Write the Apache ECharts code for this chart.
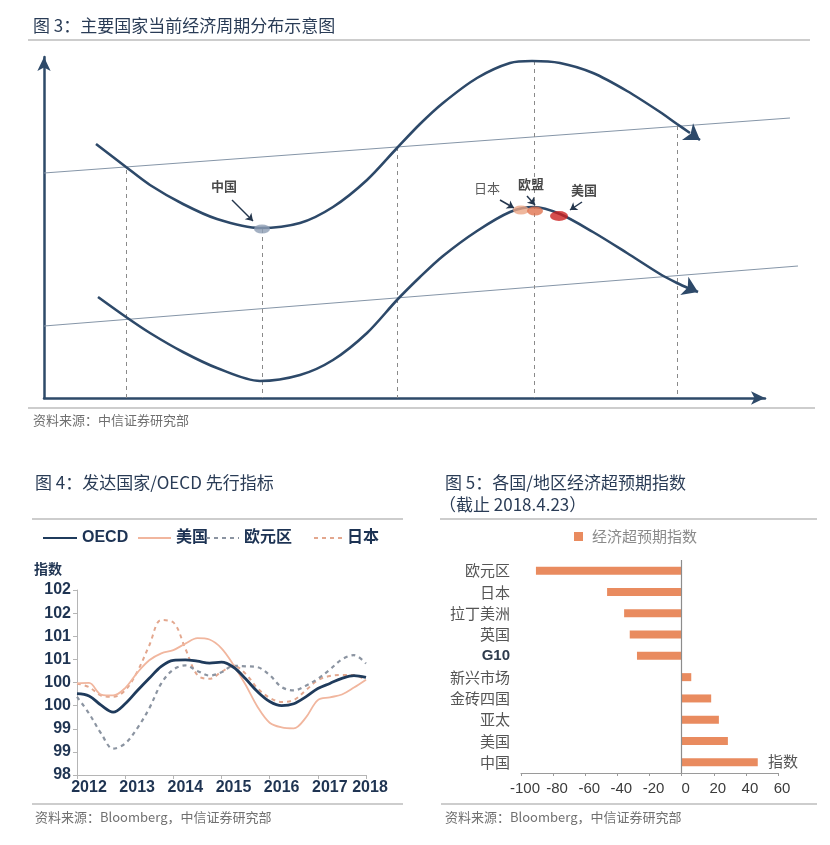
<!DOCTYPE html>
<html><head><meta charset="utf-8">
<script src="https://cdn.jsdelivr.net/npm/echarts@6/dist/echarts.min.js"></script>
<style>html,body{margin:0;padding:0;background:#fff}#c{width:830px;height:845px}</style>
</head><body><div id="c"></div>
<script>
// ---------- Figure 3: schematic cycle diagram (units: x right of y-axis, y above x-axis) ----------
const fig3Title = '图 3：主要国家当前经济周期分布示意图';
const fig3Source = '资料来源：中信证券研究部';
const upperWave = [[52,254],[82,231],[106,213],[139,194],[173,179],[216,170],[256,175],[289,191],[323,218],[353,250],[376,274],[399,295],[433,320],[466,335],[488,337],[516,335],[549,325],[583,307],[616,286],[633,274],[646,265]];
const lowerWave = [[54,101],[82,81],[106,65],[139,46],[173,30],[216,17],[256,23],[289,38],[323,65],[353,98],[376,121],[399,142],[433,167],[466,186],[490,191],[516,184],[549,166],[583,145],[616,124],[633,115],[646,109]];
const waveHeads = [[[647,264],[656,258]],[[645,110],[654,106]]];
const trendLines = [[[0,225],[746,280]],[[0,72],[754,132]]];
const guideX = [82,218,353,490,633];
const guideTop = [228,169,251,337,272];
const markerNames = ['中国','日本','欧盟','美国'];
const markerPos = [[218,169],[477,188],[491,187],[515,182]];
const markerLabelPos = [[180,212],[443,210],[487,214],[540,208]];
const pointerArrows = [[[188,198],[209,177]],[[456,198],[470,190]],[[483,202],[491,193]],[[538,196],[526,188]]];

// ---------- Figure 4: developed-country / OECD leading indicators ----------
const fig4Title = '图 4：发达国家/OECD 先行指标';
const fig4Source = '资料来源：Bloomberg，中信证券研究部';
const quarters = [2012,2012.25,2012.5,2012.75,2013,2013.25,2013.5,2013.75,2014,2014.25,2014.5,2014.75,2015,2015.25,2015.5,2015.75,2016,2016.25,2016.5,2016.75,2017,2017.25,2017.5,2017.75,2018];
const oecd  = [99.76,99.71,99.51,99.36,99.54,99.82,100.09,100.35,100.48,100.49,100.46,100.42,100.44,100.33,100.08,99.80,99.59,99.50,99.54,99.69,99.87,99.98,100.09,100.15,100.11];
const usa   = [99.98,99.99,99.74,99.72,99.88,100.21,100.48,100.63,100.70,100.84,100.96,100.93,100.74,100.38,99.95,99.47,99.13,99.03,99.01,99.24,99.62,99.68,99.74,99.89,100.06];
const euro  = [99.69,99.33,98.90,98.57,98.68,99.01,99.44,99.98,100.28,100.37,100.25,100.15,100.22,100.36,100.35,100.33,100.16,99.90,99.83,99.93,100.08,100.28,100.50,100.59,100.41];
const japan = [99.98,99.90,99.72,99.69,99.83,100.23,100.80,101.35,101.30,100.73,100.16,100.08,100.23,100.36,100.19,99.87,99.67,99.58,99.62,99.83,100.05,100.14,100.16,100.16,100.05];
const fig4XLabels = ['2012','2013','2014','2015','2016','2017','2018'];
const fig4YLabels = ['98','99','99','100','100','101','101','102','102'];

// ---------- Figure 5: economic surprise index ----------
const fig5Title = '图 5：各国/地区经济超预期指数';
const fig5Sub = '（截止 2018.4.23）';
const fig5Source = '资料来源：Bloomberg，中信证券研究部';
const regions = ['欧元区','日本','拉丁美洲','英国','G10','新兴市场','金砖四国','亚太','美国','中国'];
const surprise = [-90.7,-46.4,-35.8,-32.3,-27.8,6.0,18.4,23.2,28.8,47.4];
const fig5XLabels = ['-100','-80','-60','-40','-20','0','20','40','60'];

const F_CJK = '"Noto Sans CJK SC","Noto Sans",sans-serif';
const F_NUM = '"Liberation Sans",Arial,"Noto Sans CJK SC",sans-serif';
const NAVY = '#1f3452';
const WAVE = '#2d4969';

const chart = echarts.init(document.getElementById('c'));
const pair = (arr) => arr.map((v,i)=>[quarters[i], v]);
const markerColors = ['#8d9eb4','#eba584','#e0734f','#cc2222'];
const titleStyle = {fontFamily:F_CJK, fontSize:17, fontWeight:'normal', color:'#2a3c56'};
const srcStyle = {fontFamily:F_CJK, fontSize:13, fontWeight:'normal', color:'#707070'};
const legText = {fontFamily:F_NUM, fontSize:16, fontWeight:'bold', color:'#1d3354'};
const legCommon = {top:530, padding:0, itemHeight:14, selectedMode:false, textStyle:legText, itemStyle:{opacity:0}};

const option = {
  animation:false,
  title:[
    {text:fig3Title, left:33, top:17, padding:0, textStyle:titleStyle},
    {text:fig3Source, left:33, top:414, padding:0, textStyle:srcStyle},
    {text:fig4Title, left:35, top:474, padding:0, textStyle:titleStyle},
    {text:fig4Source, left:35, top:811, padding:0, textStyle:srcStyle},
    {text:fig5Title, left:445, top:474, padding:0, textStyle:titleStyle},
    {text:fig5Sub, left:439, top:496, padding:0, textStyle:titleStyle},
    {text:fig5Source, left:445, top:811, padding:0, textStyle:srcStyle},
    {text:'指数', left:768, top:754, padding:0, textStyle:{fontFamily:F_CJK, fontSize:15, fontWeight:'normal', color:'#555'}}
  ],
  graphic:[
    {type:'line', shape:{x1:28,y1:40,x2:810,y2:40}, style:{stroke:'#9b9b9b', lineWidth:1.2}},
    {type:'line', shape:{x1:28,y1:408,x2:815,y2:408}, style:{stroke:'#9b9b9b', lineWidth:1.2}},
    {type:'line', shape:{x1:32,y1:519,x2:403,y2:519}, style:{stroke:'#9b9b9b', lineWidth:1.2}},
    {type:'line', shape:{x1:440,y1:519,x2:817,y2:519}, style:{stroke:'#9b9b9b', lineWidth:1.2}},
    {type:'line', shape:{x1:32,y1:804,x2:403,y2:804}, style:{stroke:'#9b9b9b', lineWidth:1.2}},
    {type:'line', shape:{x1:441,y1:804,x2:817,y2:804}, style:{stroke:'#9b9b9b', lineWidth:1.2}}
  ],
  legend:[
    Object.assign({data:['OECD'], left:42, itemWidth:34}, legCommon),
    Object.assign({data:['美国'], left:137, itemWidth:33}, legCommon),
    Object.assign({data:['欧元区'], left:205, itemWidth:33}, legCommon),
    Object.assign({data:['日本'], left:313, itemWidth:28}, legCommon),
    {data:['经济超预期指数'], left:574, top:529, padding:0, icon:'rect', itemWidth:9, itemHeight:9, selectedMode:false,
     textStyle:{fontFamily:F_CJK, fontSize:15, color:'#8a8a8a', padding:[0,0,0,4]}}
  ],
  grid:[
    {left:44, top:57, width:721, height:341},
    {left:77, top:590, width:289, height:185},
    {left:521, top:560, width:257, height:213}
  ],
  xAxis:[
    {gridIndex:0, type:'value', min:0, max:721,
     axisLine:{show:true, onZero:false, symbol:['none','arrow'], symbolSize:[10,14], lineStyle:{color:'#2e4a69', width:2.5}},
     axisTick:{show:false}, axisLabel:{show:false}, splitLine:{show:false}},
    {gridIndex:1, type:'value', min:2012, max:2018, interval:1,
     axisLine:{show:true, lineStyle:{color:'#b5b5b5'}}, axisTick:{show:true, length:4, lineStyle:{color:'#b5b5b5'}},
     splitLine:{show:false},
     axisLabel:{margin:5, formatter:(v)=>{const i=Math.round(v-2012); return i===6?'{e|'+fig4XLabels[i]+'}':'{a|'+fig4XLabels[i]+'}';},
       rich:{a:{fontFamily:F_NUM, fontSize:16, fontWeight:'bold', color:NAVY, padding:[0,0,0,24]},
             e:{fontFamily:F_NUM, fontSize:16, fontWeight:'bold', color:NAVY, padding:[0,0,0,8]}}}},
    {gridIndex:2, type:'value', min:-100, max:60, interval:20,
     axisLine:{show:true, lineStyle:{color:'#9a9a9a'}}, axisTick:{show:true, length:3, lineStyle:{color:'#9a9a9a'}},
     splitLine:{show:false},
     axisLabel:{margin:8, fontFamily:F_NUM, fontSize:15, color:'#3b3b3b', padding:[0,0,0,8],
       formatter:(v)=>fig5XLabels[Math.round((v+100)/20)]}}
  ],
  yAxis:[
    {gridIndex:0, type:'value', min:0, max:341,
     axisLine:{show:true, onZero:false, symbol:['none','arrow'], symbolSize:[10,14], lineStyle:{color:'#2e4a69', width:2.5}},
     axisTick:{show:false}, axisLabel:{show:false}, splitLine:{show:false}},
    {gridIndex:1, type:'value', min:98, max:102, interval:0.5,
     axisLine:{show:true, lineStyle:{color:'#b5b5b5'}}, axisTick:{show:true, length:4, lineStyle:{color:'#b5b5b5'}},
     splitLine:{show:false},
     axisLabel:{margin:6, fontFamily:F_NUM, fontSize:16, fontWeight:'bold', color:NAVY,
       formatter:(v)=>fig4YLabels[Math.round((v-98)/0.5)]},
     name:'指数', nameLocation:'end', nameGap:14,
     nameTextStyle:{fontFamily:F_CJK, fontSize:14, fontWeight:'bold', color:NAVY, align:'right', padding:[0,15,0,0]}},
    {gridIndex:2, type:'category', data:regions, inverse:true,
     axisLine:{show:false}, axisTick:{show:false}, splitLine:{show:false},
     axisLabel:{margin:11, fontFamily:F_CJK, fontSize:15, color:'#555',
       formatter:(v)=> v==='G10' ? '{g|G10}' : v,
       rich:{g:{fontFamily:F_NUM, fontSize:15, fontWeight:'bold', color:'#2e3b4c'}}}}
  ],
  series:[
    {type:'lines', name:'trend', coordinateSystem:'cartesian2d', xAxisIndex:0, yAxisIndex:0, clip:false, silent:true,
     symbol:'none', lineStyle:{color:'#8696a8', width:1.2, opacity:1, curveness:0},
     data: trendLines.map(c=>({coords:c}))},
    {type:'lines', name:'guides', coordinateSystem:'cartesian2d', xAxisIndex:0, yAxisIndex:0, clip:false, silent:true,
     symbol:'none', lineStyle:{color:'#8a8a8a', width:1, type:[4,4], opacity:1},
     data: guideX.map((x,i)=>({coords:[[x,guideTop[i]],[x,0]]}))},
    {type:'line', name:'upperWave', xAxisIndex:0, yAxisIndex:0, data:upperWave, smooth:0.3, symbol:'none', clip:false, silent:true,
     lineStyle:{color:WAVE, width:2.6}},
    {type:'line', name:'lowerWave', xAxisIndex:0, yAxisIndex:0, data:lowerWave, smooth:0.3, symbol:'none', clip:false, silent:true,
     lineStyle:{color:WAVE, width:2.6}},
    {type:'lines', name:'waveHeads', coordinateSystem:'cartesian2d', xAxisIndex:0, yAxisIndex:0, clip:false, silent:true,
     symbol:['none','arrow'], symbolSize:15, lineStyle:{color:WAVE, width:2.6, opacity:1},
     data: waveHeads.map(c=>({coords:c}))},
    {type:'lines', name:'pointers', coordinateSystem:'cartesian2d', xAxisIndex:0, yAxisIndex:0, clip:false, silent:true,
     symbol:['none','arrow'], symbolSize:7, lineStyle:{color:'#24364d', width:1.5, opacity:1},
     data: pointerArrows.map(c=>({coords:c}))},
    {type:'scatter', name:'phase', xAxisIndex:0, yAxisIndex:0, symbol:'circle', symbolSize:[16,9], silent:true, z:5,
     data: markerPos.map((p,i)=>({value:p, itemStyle:{color:markerColors[i]}, symbolSize: i===3?[18,10]:[16,9]}))},
    {type:'scatter', name:'phaseLabels', xAxisIndex:0, yAxisIndex:0, symbolSize:1, silent:true,
     itemStyle:{color:'rgba(0,0,0,0)'},
     label:{show:true, position:'inside', formatter:'{b}', fontFamily:F_CJK, fontSize:13, fontWeight:'bold', color:'#1a1a1a'},
     data: markerLabelPos.map((p,i)=>({name:markerNames[i], value:p, label: i===1?{fontWeight:'normal', color:'#333'}:{}}))},

    {type:'line', name:'日本', xAxisIndex:1, yAxisIndex:1, data:pair(japan), smooth:0.35, symbol:'none',
     lineStyle:{color:'#e3a78e', width:2, type:[4,4]}, itemStyle:{color:'#e3a78e'}},
    {type:'line', name:'欧元区', xAxisIndex:1, yAxisIndex:1, data:pair(euro), smooth:0.35, symbol:'none',
     lineStyle:{color:'#8b94a1', width:2.2, type:[4,4]}, itemStyle:{color:'#8b94a1'}},
    {type:'line', name:'美国', xAxisIndex:1, yAxisIndex:1, data:pair(usa), smooth:0.35, symbol:'none',
     lineStyle:{color:'#f1b69e', width:1.8}, itemStyle:{color:'#f1b69e'}},
    {type:'line', name:'OECD', xAxisIndex:1, yAxisIndex:1, data:pair(oecd), smooth:0.35, symbol:'none', z:4,
     lineStyle:{color:'#1f3b5c', width:2.8}, itemStyle:{color:'#1f3b5c'}},

    {type:'bar', name:'经济超预期指数', xAxisIndex:2, yAxisIndex:2, data:surprise, barWidth:8,
     itemStyle:{color:'#e98b5f'},
     markLine:{silent:true, symbol:'none', label:{show:false}, lineStyle:{color:'#8c8c8c', type:'solid', width:1.2},
       data:[{xAxis:0}]}}
  ]
};
chart.setOption(option);
</script>
</body></html>
